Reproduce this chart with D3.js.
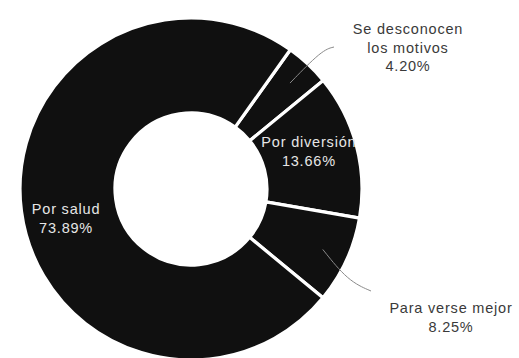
<!DOCTYPE html>
<html>
<head>
<meta charset="utf-8">
<script src="https://cdn.jsdelivr.net/npm/d3@7"></script>
<style>
  html, body { margin: 0; padding: 0; background: #fff; }
  svg { display: block; }
  text { font-family: "Liberation Sans", Arial, sans-serif; font-size: 14.5px; letter-spacing: 0.8px; }
</style>
</head>
<body>
<svg id="chart" width="519" height="358"></svg>
<script>
// Data (clockwise order starting at the top-right)
const categories = ["Se desconocen los motivos", "Por diversión", "Para verse mejor", "Por salud"];
const labelLines = [["Se desconocen", "los motivos"], ["Por diversión"], ["Para verse mejor"], ["Por salud"]];
const values = [4.20, 13.66, 8.25, 73.89];
const valueLabels = ["4.20%", "13.66%", "8.25%", "73.89%"];
const labelInside = [false, true, false, true];

const W = 519, H = 358;
const cx = 191, cy = 189;
const outerR = 171, innerR = 76;
const startAngle = 35.5 * Math.PI / 180;

const svg = d3.select("#chart");
const g = svg.append("g").attr("transform", `translate(${cx},${cy})`);

const data = categories.map((c, i) => ({ name: c, value: values[i], i }));

const pie = d3.pie().sort(null).value(d => d.value)
  .startAngle(startAngle).endAngle(startAngle + 2 * Math.PI);
const arcs = pie(data);

const arc = d3.arc().innerRadius(innerR).outerRadius(outerR);

g.selectAll("path.slice").data(arcs).join("path")
  .attr("class", "slice")
  .attr("d", arc)
  .attr("fill", "#101010")
  .attr("stroke", "#ffffff")
  .attr("stroke-width", 3.2)
  .attr("stroke-linejoin", "miter");

// inside labels
const midArc = d3.arc().innerRadius(124).outerRadius(124);
const insideOffsets = { 1: [-2, 10], 3: [-2, 29] };
arcs.forEach(a => {
  const i = a.data.i;
  if (!labelInside[i]) return;
  const [x, y] = midArc.centroid(a);
  const [ox, oy] = insideOffsets[i];
  const lines = labelLines[i].concat([valueLabels[i]]);
  const t = g.append("text")
    .attr("text-anchor", "middle")
    .attr("fill", "#e6e6e6");
  lines.forEach((ln, k) => {
    t.append("tspan").attr("x", x + ox).attr("y", y + oy - 20 + k * 19).text(ln);
  });
});

// outside labels with leader lines
const leaderStart = d3.arc().innerRadius(145).outerRadius(145);
const outsideCfg = {
  0: { bend: [131, -139], end: [143, -142], text: [217, -155], lh: 18.5 },
  2: { bend: [157, 92], end: [180, 102], text: [260, 124], lh: 18.5 }
};
arcs.forEach(a => {
  const i = a.data.i;
  if (labelInside[i]) return;
  const cfg = outsideCfg[i];
  const p0 = leaderStart.centroid(a);
  g.append("path")
    .attr("d", d3.line().curve(d3.curveBasis)([p0, cfg.bend, cfg.end]))
    .attr("fill", "none")
    .attr("stroke", "#8a8a8a")
    .attr("stroke-width", 1);
  const lines = labelLines[i].concat([valueLabels[i]]);
  const t = g.append("text")
    .attr("text-anchor", "middle")
    .attr("fill", "#3a3a3a");
  lines.forEach((ln, k) => {
    t.append("tspan").attr("x", cfg.text[0]).attr("y", cfg.text[1] + k * cfg.lh).text(ln);
  });
});
</script>
</body>
</html>
